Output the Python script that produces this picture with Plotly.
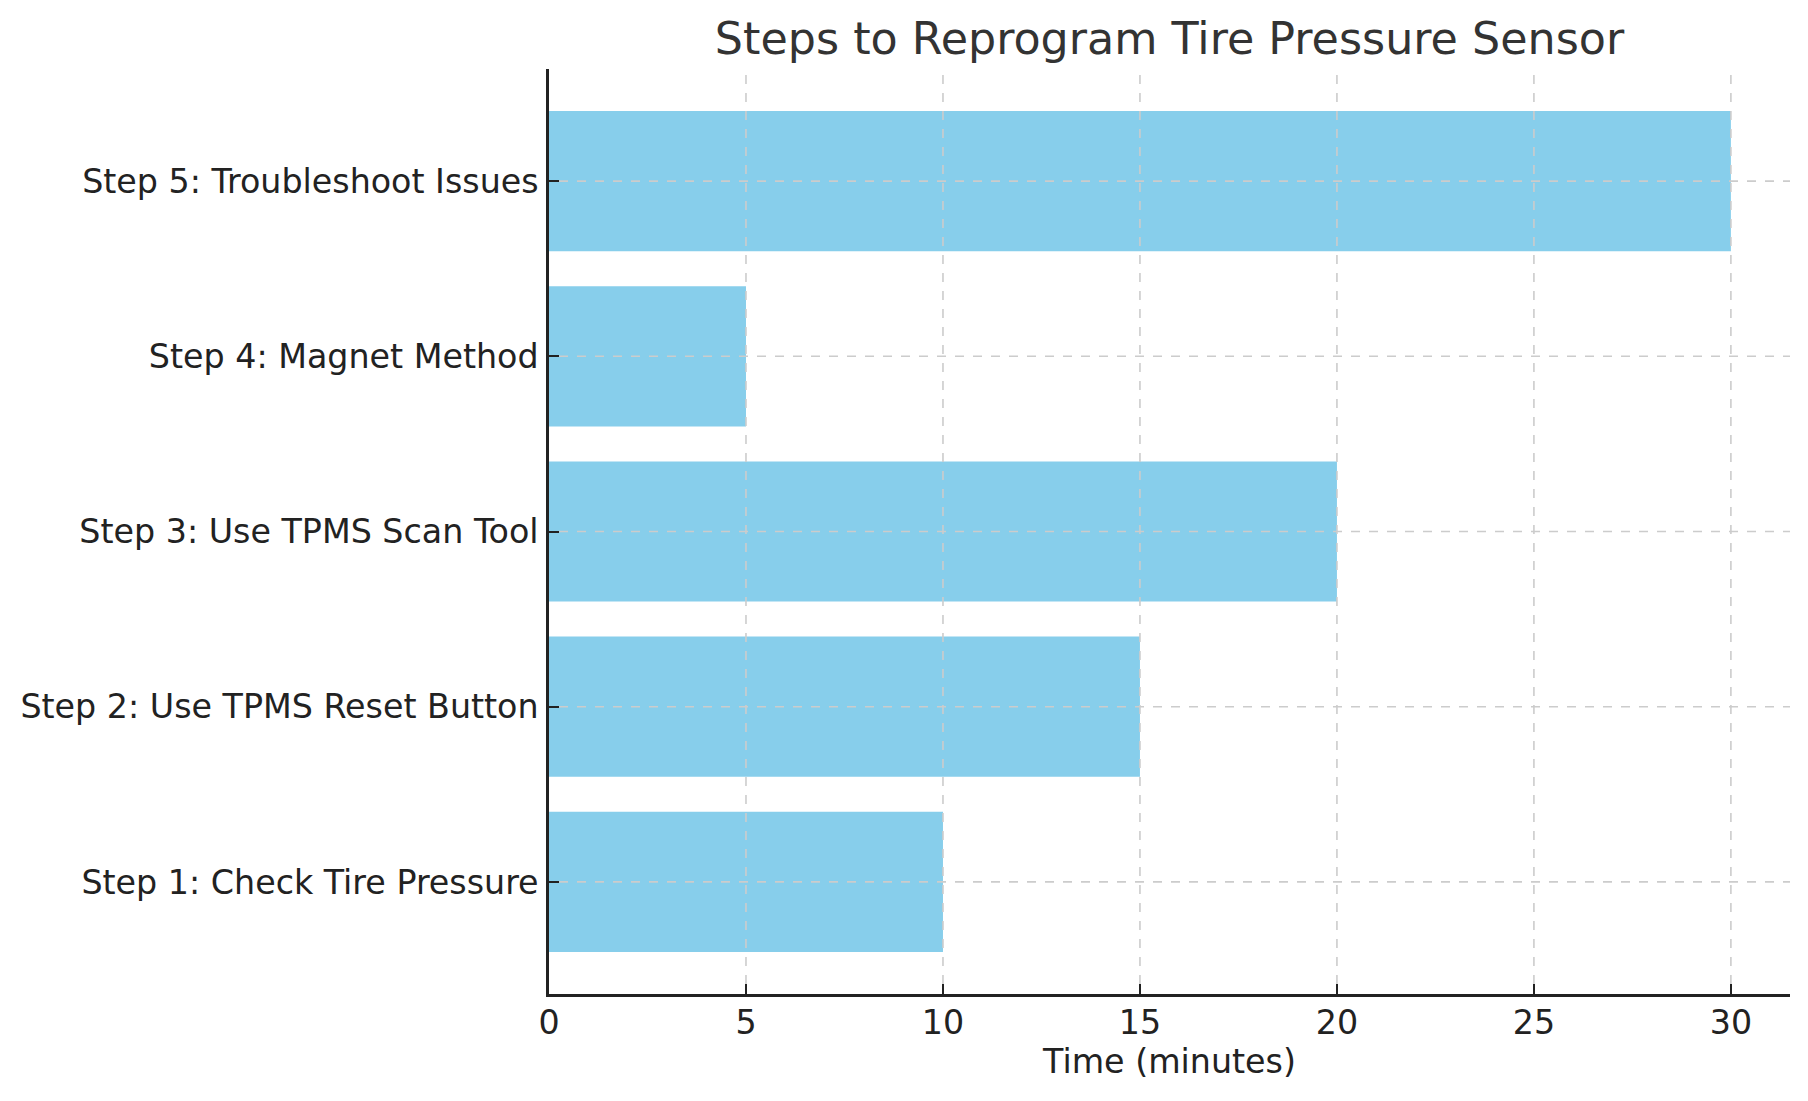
import plotly.graph_objects as go

steps = [
    "Step 1: Check Tire Pressure",
    "Step 2: Use TPMS Reset Button",
    "Step 3: Use TPMS Scan Tool",
    "Step 4: Magnet Method",
    "Step 5: Troubleshoot Issues",
]
times = [10, 15, 20, 5, 30]
x_ticks = [0, 5, 10, 15, 20, 25, 30]

positions = list(range(len(steps)))

W, H = 1800, 1093
ML, MR, MT, MB = 541, 18, 61, 107
PW, PH = W - ML - MR, H - MT - MB
TICKLEN = 10
X_RANGE = [0, 31.5]
Y_RANGE = [-0.64, 4.64]

fig = go.Figure()
fig.add_trace(go.Bar(
    x=times, y=positions, orientation="h", width=0.8,
    marker=dict(color="#87CEEB", line=dict(width=0)),
    hoverinfo="skip",
))

grid = dict(color="#cccccc", width=1.6, dash="dash")
shapes = []
for t in x_ticks:
    if t == X_RANGE[0]:
        continue  # hidden under the left spine
    shapes.append(dict(type="line", xref="x", yref="y", x0=t, x1=t,
                       ysizemode="pixel", yanchor=Y_RANGE[0], y0=TICKLEN, y1=PH,
                       line=grid, layer="above"))
for p in positions:
    shapes.append(dict(type="line", xref="x", yref="y", y0=p, y1=p,
                       xsizemode="pixel", xanchor=X_RANGE[0], x0=TICKLEN, x1=PW,
                       line=grid, layer="above"))

# page body has an 8px margin, so the figure is 8px smaller and offsets are compensated
fig.update_layout(
    width=W, height=H,
    margin=dict(l=ML, r=MR, t=MT, b=MB, autoexpand=False),
    paper_bgcolor="white", plot_bgcolor="white",
    font=dict(family="DejaVu Sans", size=33.3, color="#222222"),
    showlegend=False,
    bargap=0.2,
    shapes=shapes,
    title=dict(
        text="Steps to Reprogram Tire Pressure Sensor",
        font=dict(size=44.4, color="#333333"),
        x=0.5, xref="paper", xanchor="center",
        y=1, yref="paper", yanchor="bottom", pad=dict(b=15),
    ),
    xaxis=dict(
        range=X_RANGE, tickvals=x_ticks, ticktext=[str(t) for t in x_ticks],
        showgrid=False, zeroline=False,
        showline=True, linecolor="#222222", linewidth=2.5,
        ticks="inside", ticklen=TICKLEN, tickwidth=2, tickcolor="#222222",
        ticklabelstandoff=-3,
        title=dict(text="Time (minutes)", standoff=9, font=dict(size=33.3, color="#222222")),
        layer="above traces",
    ),
    yaxis=dict(
        range=Y_RANGE, tickvals=positions, ticktext=steps,
        showgrid=False, zeroline=False,
        showline=True, linecolor="#222222", linewidth=2.5,
        ticks="inside", ticklen=TICKLEN, tickwidth=2, tickcolor="#222222",
        ticklabelstandoff=1,
        layer="above traces",
    ),
)

fig.write_html("out.html")
